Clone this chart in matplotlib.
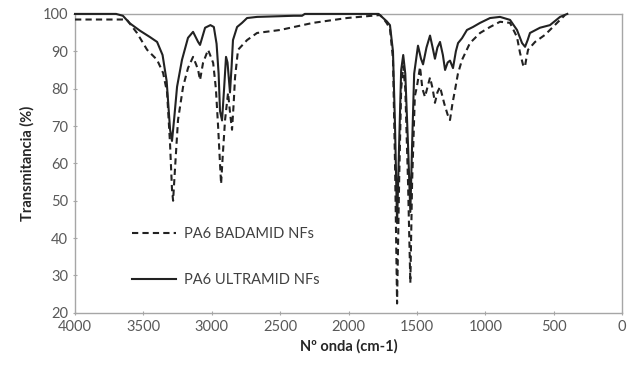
import numpy as np
import matplotlib
matplotlib.use("Agg")
import matplotlib.pyplot as plt

plt.rcParams['font.family'] = ['Lato', 'DejaVu Sans']

# PA6 ULTRAMID NFs (solid)
ultra_wn = [4000, 3700, 3650, 3600, 3525, 3452, 3400, 3360, 3330, 3305, 3291, 3275, 3254,
            3218, 3174, 3137, 3100, 3086, 3049, 3010, 2985, 2965, 2950, 2940, 2925, 2910,
            2896, 2885, 2867, 2855, 2845, 2815, 2779, 2742, 2669, 2400, 2340, 2320, 1780,
            1750, 1720, 1697, 1675, 1660, 1645, 1630, 1615, 1600, 1585, 1565, 1548, 1535,
            1520, 1492, 1470, 1455, 1430, 1404, 1385, 1368, 1350, 1331, 1310, 1294, 1275,
            1258, 1236, 1215, 1199, 1170, 1134, 1090, 1038, 965, 892, 819, 768, 731, 709,
            690, 673, 600, 527, 453, 400]
ultra_t = [100, 100, 99.5, 97.5, 95.5, 93.8, 92.5, 89, 82, 69, 66, 72, 80.5,
           87.7, 93.6, 95.2, 92.5, 91.7, 96.3, 97, 96.5, 92, 84, 74, 71.5, 80,
           88.5, 87, 79, 86, 93, 96.5, 97.6, 98.9, 99.2, 99.5, 99.5, 100, 100,
           99, 98, 97, 90, 70, 44, 65, 85, 89, 84, 65, 47, 65,
           84, 91.5, 88, 86.5, 91, 94.2, 91, 88, 91, 92.5, 89, 85, 87,
           87.5, 85.5, 90, 92.2, 93.5, 95.7, 96.5, 97.6, 98.9, 99.2, 98.4, 95.7, 92.2, 91.2,
           93, 94.9, 96.3, 97, 99.2, 100]

# PA6 BADAMID NFs (dashed)
bada_wn = [4000, 3650, 3620, 3547, 3473, 3400, 3356, 3327, 3305, 3291, 3283, 3270, 3247,
           3210, 3174, 3137, 3115, 3100, 3086, 3064, 3027, 2990, 2970, 2954, 2940, 2932,
           2920, 2903, 2881, 2865, 2852, 2840, 2830, 2808, 2742, 2669, 2500, 2260, 2011,
           1770, 1750, 1720, 1697, 1675, 1660, 1645, 1630, 1615, 1600, 1585, 1565, 1548,
           1535, 1515, 1500, 1477, 1460, 1441, 1404, 1385, 1368, 1350, 1331, 1300, 1275,
           1258, 1240, 1221, 1200, 1170, 1112, 1038, 965, 892, 819, 768, 746, 724, 710,
           700, 687, 636, 563, 475, 417]
bada_t = [98.5, 98.5, 98.4, 94.9, 90.4, 87.7, 84.2, 79, 65, 53, 50, 58, 71.6,
          80.5, 85.5, 88.5, 86.5, 85, 82.3, 86.9, 90.4, 86.9, 80, 70, 60, 54.5,
          62, 71.6, 78.9, 73, 69, 76, 83, 90.4, 93, 94.9, 95.7, 97.6, 98.9,
          99.7, 99, 97.5, 96, 88, 60, 22.5, 55, 80, 86, 80, 55, 28,
          55, 78, 80.5, 85.8, 80, 77.8, 83, 80, 76.2, 79, 80.5, 76, 73,
          71.6, 76, 79.7, 84, 87.7, 92.2, 94.9, 96.5, 97.9, 97.6, 93.8, 89.6, 86.4, 85.8,
          88, 90.4, 92.5, 94.4, 97.6, 99.7]

fig = plt.figure(figsize=(6.36, 3.76), dpi=100)
ax = fig.add_axes([0.118, 0.168, 0.860, 0.795])

ax.plot(bada_wn, bada_t, color='#222222', lw=1.5, ls=(0, (3, 2)), label='PA6 BADAMID NFs',
        clip_on=False, zorder=3)
ax.plot(ultra_wn, ultra_t, color='#222222', lw=1.5, label='PA6 ULTRAMID NFs',
        clip_on=False, zorder=3)

ax.set_xlim(4000, 0)
ax.set_ylim(20, 100)
ax.set_xticks(np.arange(0, 4001, 500))
ax.set_yticks(np.arange(20, 101, 10))

for s in ax.spines.values():
    s.set_color('#a6a6a6')
    s.set_linewidth(1.0)
    s.set_zorder(1)
ax.tick_params(colors='#a6a6a6', labelcolor='#595959', labelsize=10.5, length=3, direction='inout')

ax.set_xlabel('Nº onda (cm-1)', fontsize=10.5, fontweight='bold', color='#262626', labelpad=4)
ax.set_ylabel('Transmitancia (%)', fontsize=10.5, fontweight='bold', color='#262626', labelpad=6)

ax.legend(loc='lower left', bbox_to_anchor=(0.08, 0.043), frameon=False, fontsize=10.5,
          labelcolor='#404040', handlelength=3.0, handletextpad=0.6, labelspacing=2.2)

fig.savefig('out.png', dpi=100)
